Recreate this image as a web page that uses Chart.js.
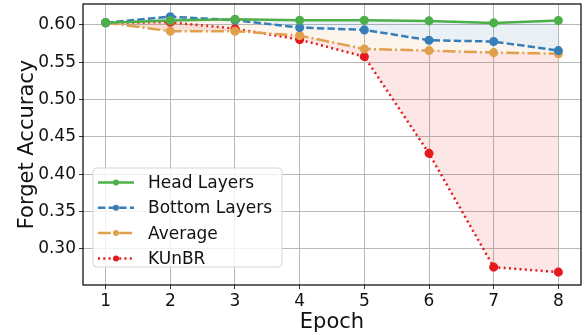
<!DOCTYPE html>
<html>
<head>
<meta charset="utf-8">
<script src="https://cdn.jsdelivr.net/npm/chart.js@4"></script>
<style>
  html, body { margin: 0; padding: 0; background: #fff; }
  #wrap { width: 584px; height: 335px; }
</style>
</head>
<body>
<div id="wrap"><canvas id="forgetChart" width="584" height="335"></canvas></div>
<script>
const epochs = [1, 2, 3, 4, 5, 6, 7, 8];
const headLayers = [0.603, 0.606, 0.6076, 0.6063, 0.6063, 0.6054, 0.6027, 0.6058];
const bottomLayers = [0.603, 0.611, 0.6063, 0.5964, 0.5933, 0.5795, 0.5777, 0.5656];
const average = [0.603, 0.5916, 0.5916, 0.5857, 0.5678, 0.5656, 0.5629, 0.5615];
const kunbr = [0.603, 0.6036, 0.595, 0.5803, 0.5575, 0.428, 0.2756, 0.2689];
const yTicks = [0.30, 0.35, 0.40, 0.45, 0.50, 0.55, 0.60];

const FONT = "'DejaVu Sans', sans-serif";

function pts(vals) {
  return vals.map((v, i) => ({ x: epochs[i], y: v }));
}

const series = [
  { label: 'Head Layers', data: headLayers, color: '#4daf4a', dash: [], fill: false, fillColor: 'rgba(0,0,0,0)' },
  { label: 'Bottom Layers', data: bottomLayers, color: '#377eb8', dash: [7.4, 3.2], fill: 0, fillColor: 'rgba(55,126,184,0.11)' },
  { label: 'Average', data: average, color: '#e0a04c', dash: [12.8, 3.2, 2, 3.2], fill: 1, fillColor: 'rgba(224,160,76,0.1)' },
  { label: 'KUnBR', data: kunbr, color: '#e41a1c', dash: [2, 3.3], fill: 2, fillColor: 'rgba(228,26,28,0.11)' }
];

const boxPlugin = {
  id: 'boxAndLegend',
  afterDatasetsDraw(chart) {
    const { ctx, chartArea: a } = chart;
    ctx.save();
    // legend
    const lx = 93, ly = 168, lw = 189, lh = 99, r = 4;
    ctx.beginPath();
    ctx.moveTo(lx + r, ly);
    ctx.arcTo(lx + lw, ly, lx + lw, ly + lh, r);
    ctx.arcTo(lx + lw, ly + lh, lx, ly + lh, r);
    ctx.arcTo(lx, ly + lh, lx, ly, r);
    ctx.arcTo(lx, ly, lx + lw, ly, r);
    ctx.closePath();
    ctx.fillStyle = 'rgba(255,255,255,0.8)';
    ctx.fill();
    ctx.strokeStyle = '#d6d6d6';
    ctx.lineWidth = 1;
    ctx.stroke();
    series.forEach((s, i) => {
      const y = 182.5 + i * 25.3;
      ctx.strokeStyle = s.color;
      ctx.lineWidth = 2.5;
      ctx.setLineDash(s.dash);
      ctx.beginPath();
      ctx.moveTo(98, y);
      ctx.lineTo(134, y);
      ctx.stroke();
      ctx.setLineDash([]);
      ctx.fillStyle = s.color;
      ctx.beginPath();
      ctx.arc(116, y, 3, 0, Math.PI * 2);
      ctx.fill();
      ctx.fillStyle = '#111';
      ctx.font = '17px ' + FONT;
      ctx.textBaseline = 'middle';
      ctx.fillText(s.label, 148, y + 1);
    });
    // frame
    ctx.strokeStyle = '#000';
    ctx.lineWidth = 1.2;
    ctx.strokeRect(a.left, a.top, a.right - a.left, a.bottom - a.top);
    ctx.restore();
  }
};

new Chart(document.getElementById('forgetChart'), {
  type: 'line',
  data: {
    datasets: series.map((s) => ({
      label: s.label,
      data: pts(s.data),
      borderColor: s.color,
      backgroundColor: s.fillColor,
      pointBackgroundColor: s.color,
      pointBorderColor: s.color,
      pointRadius: 3.3,
      borderWidth: 2.5,
      borderDash: s.dash,
      fill: s.fill,
      tension: 0
    }))
  },
  options: {
    responsive: false,
    animation: false,
    layout: { autoPadding: false, padding: { top: 4, right: 3, left: 0, bottom: 0 } },
    plugins: {
      legend: { display: false },
      tooltip: { enabled: false },
      filler: { propagate: false }
    },
    scales: {
      x: {
        type: 'linear',
        min: 0.65,
        max: 8.35,
        afterBuildTicks: (scale) => { scale.ticks = epochs.map((v) => ({ value: v })); },
        afterFit: (scale) => { scale.height = 50; scale.paddingLeft = 0; scale.paddingRight = 0; },
        grid: { color: '#b8b8b8', lineWidth: 1, tickLength: 4, tickColor: '#333' },
        border: { display: false },
        ticks: { color: '#111', font: { family: FONT, size: 17 }, padding: 2, callback: (v) => String(v) },
        title: { display: true, text: 'Epoch', color: '#111', font: { family: FONT, size: 21 }, padding: { top: -4, bottom: 0 } }
      },
      y: {
        min: 0.2517,
        max: 0.628,
        afterBuildTicks: (scale) => { scale.ticks = yTicks.map((v) => ({ value: v })); },
        afterFit: (scale) => { scale.width = 83; scale.paddingTop = 0; scale.paddingBottom = 0; },
        grid: { color: '#b8b8b8', lineWidth: 1, tickLength: 4, tickColor: '#333' },
        border: { display: false },
        ticks: { color: '#111', font: { family: FONT, size: 17 }, padding: 3, callback: (v) => v.toFixed(2) },
        title: { display: true, text: 'Forget Accuracy', color: '#111', font: { family: FONT, size: 21 }, padding: { top: 15, bottom: 4 } }
      }
    }
  },
  plugins: [boxPlugin]
});
</script>
</body>
</html>
